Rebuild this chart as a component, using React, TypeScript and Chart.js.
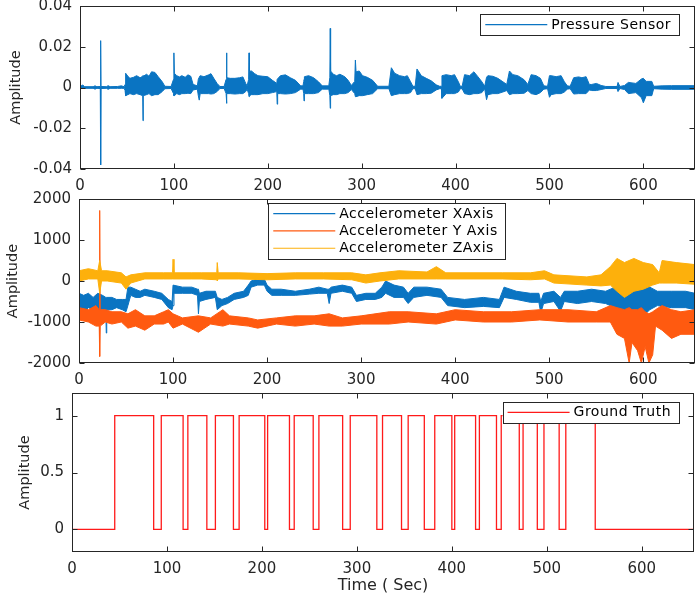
import React, { useEffect, useRef } from "react";
import { Chart, registerables } from "chart.js";

Chart.register(...registerables);

// ---------- shared axis data ----------
const timeTicks = [0, 100, 200, 300, 400, 500, 600];
const timeMax = 655;
const pressureTicks = [-0.04, -0.02, 0, 0.02, 0.04];
const accelTicks = [-2000, -1000, 0, 1000, 2000];
const truthTicks = [0, 0.5, 1];

// ---------- Pressure sensor envelope: [time, upper, lower] ----------
const pressureEnvelope: [number, number, number][] = [
  [0, 0.0005, -0.0005], [3, 0.0012, -0.0004], [5, 0.0004, -0.0004], [14, 0.0004, -0.0004], [16, 0.0008, -0.0008],
  [18, 0.0004, -0.0004], [21.6, 0.0005, -0.0005], [22, 0.023, -0.038], [22.4, 0.0005, -0.0005], [28, 0.0004, -0.0004],
  [30, 0.0009, -0.0009], [32, 0.0004, -0.0004], [40, 0.0005, -0.0004], [44, 0.0008, -0.0004], [47, 0.0004, -0.0004],
  // burst 1
  [48, 0.0015, -0.0015], [48.6, 0.007, -0.004], [51, 0.0055, -0.0035], [53.2, 0.0045, -0.003], [57, 0.005, -0.0035],
  [60.3, 0.0058, -0.003], [64, 0.0048, -0.0035], [66.8, 0.0055, -0.004], [67.1, 0.0058, -0.0163], [67.4, 0.0055, -0.004],
  [70.9, 0.0065, -0.0035], [73.5, 0.0055, -0.003], [76.2, 0.0077, -0.004], [79.8, 0.0074, -0.0035], [83.3, 0.0053, -0.0035],
  [87.6, 0.0028, -0.002], [90.4, 0.0006, -0.0006],
  // burst 2
  [97, 0.0005, -0.0005], [99.6, 0.004, -0.003], [100, 0.017, -0.004], [100.5, 0.007, -0.004], [103, 0.0058, -0.003],
  [106, 0.0052, -0.0035], [108.5, 0.0058, -0.003], [112, 0.005, -0.003], [115, 0.0062, -0.0028], [118, 0.0055, -0.003],
  [120.5, 0.0015, -0.0012],
  // burst 3
  [125, 0.0008, -0.0008], [126, 0.004, -0.004], [127, 0.005, -0.0062], [128, 0.0058, -0.003], [132, 0.0053, -0.003],
  [137, 0.0062, -0.003], [139.5, 0.0068, -0.0032], [142.5, 0.0045, -0.003], [146, 0.002, -0.002], [149, 0.0005, -0.0005],
  // burst 4
  [153.5, 0.0005, -0.0005], [155.6, 0.004, -0.003], [156, 0.017, -0.0078], [156.5, 0.0048, -0.003], [160, 0.0045, -0.003],
  [165, 0.0045, -0.0032], [170, 0.0048, -0.003], [173.5, 0.0052, -0.003], [176.5, 0.002, -0.002], [178, 0.0008, -0.0008],
  // burst 5
  [179.6, 0.004, -0.003], [180, 0.017, -0.0045], [180.5, 0.008, -0.004], [182.6, 0.0081, -0.0035], [186, 0.0068, -0.0035],
  [189.5, 0.0058, -0.0035], [194.8, 0.0055, -0.003], [200, 0.0053, -0.003], [205, 0.0035, -0.0025], [209.6, 0.002, -0.002],
  [210, 0.004, -0.0082], [210.5, 0.004, -0.003],
  // burst 6
  [213.5, 0.0058, -0.003], [218.8, 0.0062, -0.0032], [224, 0.0048, -0.003], [229.5, 0.0035, -0.0025], [235, 0.0008, -0.0008],
  // burst 7
  [237.5, 0.0008, -0.0008], [238.3, 0.003, -0.003], [238.6, 0.004, -0.0066], [239, 0.0053, -0.003], [243.5, 0.0058, -0.003],
  [248.8, 0.0048, -0.003], [254, 0.0028, -0.0025], [258, 0.0008, -0.0008],
  // burst 8
  [265, 0.0008, -0.0008], [266.1, 0.005, -0.004], [266.5, 0.029, -0.0102], [266.9, 0.0081, -0.004], [269.8, 0.0065, -0.0035],
  [273.3, 0.0058, -0.0035], [276.8, 0.0065, -0.003], [282, 0.0053, -0.003], [285.6, 0.0035, -0.0025], [289, 0.001, -0.001],
  // burst 9
  [292.6, 0.003, -0.003], [293.3, 0.0135, -0.0045], [294, 0.0077, -0.0045], [297.4, 0.0081, -0.004], [300.9, 0.0058, -0.004],
  [306, 0.005, -0.0035], [311.7, 0.0035, -0.003], [317, 0.0006, -0.0006],
  // burst 10
  [329, 0.0006, -0.0006], [331.6, 0.0097, -0.004], [335.1, 0.007, -0.0035], [340.4, 0.0058, -0.003], [345.7, 0.0053, -0.003],
  [348.6, 0.0058, -0.003], [352.1, 0.0028, -0.0025], [354.5, 0.0006, -0.0006],
  // burst 11
  [357, 0.0006, -0.0006], [358.9, 0.0091, -0.0035], [363.5, 0.0058, -0.003], [368.8, 0.0045, -0.003], [374, 0.0033, -0.0028],
  [379.4, 0.0013, -0.0012], [383, 0.0006, -0.0006],
  // burst 12
  [385, 0.0006, -0.0006], [385.5, 0.0058, -0.0053], [390, 0.0063, -0.003], [395.4, 0.0058, -0.003], [398.9, 0.0063, -0.003],
  [403, 0.0028, -0.0022], [405, 0.0006, -0.0006],
  // burst 13
  [407, 0.0006, -0.0006], [409.6, 0.0063, -0.003], [414.9, 0.0058, -0.0035], [419.5, 0.0077, -0.003], [423.8, 0.0053, -0.003],
  [428, 0.0028, -0.0025], [431, 0.0006, -0.0006],
  // burst 14
  [433, 0.005, -0.006], [434.4, 0.0058, -0.0035], [439.7, 0.0055, -0.003], [445, 0.0045, -0.003], [450.4, 0.0028, -0.0022],
  [454.5, 0.0015, -0.0015],
  // burst 15
  [457.4, 0.0081, -0.0035], [461, 0.0063, -0.003], [466.3, 0.0058, -0.003], [473, 0.0038, -0.0028], [477, 0.0015, -0.0015],
  // burst 16
  [480.5, 0.0063, -0.003], [485.8, 0.0058, -0.0035], [490.4, 0.0045, -0.0025], [494, 0.0008, -0.0008], [498, 0.0006, -0.0006],
  // burst 17
  [500, 0.0058, -0.0048], [501.8, 0.0058, -0.0035], [507.1, 0.0053, -0.003], [512.4, 0.0058, -0.003], [515.9, 0.0028, -0.0022],
  [519, 0.0008, -0.0008],
  // burst 18
  [522, 0.0006, -0.0006], [525.8, 0.0048, -0.0032], [531, 0.0052, -0.003], [534.6, 0.0048, -0.003], [539, 0.0053, -0.003],
  [542.5, 0.0015, -0.0012], [545, 0.0015, -0.0015], [550, 0.002, -0.0015], [555, 0.001, -0.001], [560, 0.0005, -0.0005],
  // tail
  [572, 0.0005, -0.0005], [573, 0.0025, -0.002], [575, 0.0005, -0.0005], [580, 0.001, -0.001], [584, 0.0025, -0.003],
  [592, 0.002, -0.0025], [598, 0.0042, -0.005], [600, 0.0045, -0.0075], [603, 0.003, -0.004], [609, 0.003, -0.004],
  [611, 0.0006, -0.0006], [620, 0.0008, -0.0008], [630, 0.0009, -0.0009], [655, 0.0009, -0.0009],
];

// ---------- Accelerometer envelopes: [time, upper, lower] ----------
const accelXEnvelope: [number, number, number][] = [
  [0, -300, -700], [5, -350, -750], [10, -300, -650], [15, -400, -700], [20, -300, -800], [25, -350, -700],
  [28.5, -400, -700], [29, -400, -1270], [29.5, -400, -700], [35, -400, -700], [40, -450, -650], [46, -450, -700],
  [50, -450, -750], [52, -150, -600], [55, -150, -350], [60, -200, -400], [65, -250, -400], [70, -200, -350],
  [80, -250, -400], [88, -300, -450], [95, -450, -650], [99, -500, -700], [100, -100, -600], [101, -100, -300],
  [110, -150, -300], [120, -150, -300], [126, -200, -350], [127, -200, -800], [128, -300, -500], [135, -250, -450],
  [145, -250, -400], [147, -400, -700], [152, -450, -600], [158, -400, -550], [165, -300, -450], [175, -250, -400],
  [180, -100, -350], [183, 0, -150], [190, 50, -100], [197, 50, -100], [200, -100, -250], [205, -200, -350],
  [215, -200, -350], [230, -250, -350], [245, -200, -320], [255, -150, -300], [264, -200, -300], [266, -200, -550],
  [268, -150, -300], [280, -100, -250], [290, -150, -300], [295, -350, -500], [305, -300, -450], [315, -300, -450],
  [322, -150, -400], [326, 0, -300], [335, -100, -400], [345, -150, -400], [350, -300, -550], [356, -150, -400],
  [370, -150, -350], [385, -200, -400], [392, -400, -600], [410, -450, -650], [430, -400, -620], [447, -450, -650],
  [452, -150, -400], [465, -250, -450], [480, -300, -520], [489, -300, -520], [491, -500, -780], [494, -300, -550],
  [505, -250, -500], [512, -400, -740], [516, -250, -500], [530, -250, -550], [545, -200, -500], [560, -250, -550],
  [570, -150, -650], [580, 0, -860], [590, -100, -800], [600, 0, -850], [607, -150, -700], [615, -250, -600],
  [630, -250, -650], [645, -250, -650], [655, -300, -700],
];

const accelYEnvelope: [number, number, number][] = [
  [0, -650, -950], [10, -700, -1000], [18, -600, -1100], [21.5, -700, -1100], [22, 1720, -1840], [22.5, -700, -1100],
  [28, -700, -1000], [35, -750, -1050], [45, -750, -1000], [52, -800, -1150], [60, -700, -1100], [70, -850, -1200],
  [80, -850, -1050], [90, -750, -1050], [95, -700, -1000], [100, -800, -1150], [110, -900, -1050], [127, -850, -1250],
  [140, -900, -1050], [153, -700, -1100], [160, -850, -1050], [180, -900, -1100], [190, -950, -1150],
  [210, -900, -1050], [230, -850, -1100], [250, -850, -1050], [266, -800, -1100], [280, -900, -1100],
  [300, -850, -1050], [330, -750, -1050], [350, -750, -1000], [380, -800, -1050], [400, -700, -950],
  [430, -750, -1000], [460, -750, -1000], [490, -700, -950], [520, -700, -1000], [550, -750, -1000],
  [565, -600, -1000], [572, -650, -1300], [580, -700, -1400], [585, -650, -2000], [588, -700, -1500],
  [594, -700, -1700], [598, -650, -2000], [602, -750, -1600], [606, -800, -2000], [610, -750, -1800],
  [613, -700, -1100], [620, -600, -1200], [630, -700, -1400], [640, -750, -1300], [655, -700, -1300],
];

const accelZEnvelope: [number, number, number][] = [
  [0, 250, 0], [10, 300, 50], [20, 250, 50], [22, 500, -300], [24, 250, 0], [30, 250, 0], [45, 200, -50],
  [50, 100, -200], [55, 150, -50], [70, 200, 50], [90, 200, 50], [99.5, 200, 50], [100, 530, 50], [101, 200, 50],
  [120, 200, 50], [130, 200, 50], [146.5, 200, 30], [147, 450, 0], [148, 200, 50], [170, 200, 50], [200, 180, 30],
  [230, 200, 50], [260, 200, 50], [290, 200, 30], [305, 150, -50], [320, 200, 0], [340, 250, 50], [370, 220, 50],
  [380, 350, 50], [390, 200, 50], [420, 200, 50], [450, 200, 50], [480, 200, 30], [495, 250, 50], [505, 150, -50],
  [540, 100, -100], [555, 150, -120], [565, 350, -100], [572, 550, -250], [580, 450, -400], [590, 550, -250],
  [600, 450, -200], [610, 400, -100], [617, 200, -50], [620, 500, -50], [635, 450, -50], [655, 400, -80],
];

// ---------- Ground truth (step signal) ----------
const truthTime = [0, 45, 86, 94, 117, 122, 142, 151, 170, 176, 203, 206, 229, 234, 254, 260, 285, 293, 321, 327,
  347, 354, 371, 382, 400, 403, 425, 429, 447, 452, 471, 475, 490, 497, 513, 520, 551, 655];
const truthValue = [0, 1, 0, 1, 0, 1, 0, 1, 0, 1, 0, 1, 0, 1, 0, 1, 0, 1, 0, 1,
  0, 1, 0, 1, 0, 1, 0, 1, 0, 1, 0, 1, 0, 1, 0, 1, 0, 0];

// ---------- styling ----------
const FONT = '"DejaVu Sans", "Liberation Sans", sans-serif';
const AXIS_COLOR = "#262626";
const BLUE = "#0a74c2";
const ORANGE = "#ff5a10";
const YELLOW = "#fdb00c";
const RED = "#ff1a1a";

const matlabPlugin = {
  id: "matlab",
  afterDraw(chart: any, _args: any, opts: any) {
    const { ctx, chartArea: a, scales } = chart;
    ctx.save();
    ctx.strokeStyle = AXIS_COLOR;
    ctx.lineWidth = 1;
    const L = Math.round(a.left) + 0.5, T = Math.round(a.top) + 0.5;
    const R = Math.round(a.right) - 0.5, B = Math.round(a.bottom) - 0.5;
    ctx.strokeRect(L, T, R - L, B - T);
    const tl = 5;
    ctx.beginPath();
    scales.x.ticks.forEach((t: any) => {
      const px = Math.round(scales.x.getPixelForValue(t.value)) + 0.5;
      ctx.moveTo(px, B); ctx.lineTo(px, B - tl);
      ctx.moveTo(px, T); ctx.lineTo(px, T + tl);
    });
    scales.y.ticks.forEach((t: any) => {
      const py = Math.round(scales.y.getPixelForValue(t.value)) + 0.5;
      ctx.moveTo(L, py); ctx.lineTo(L + tl, py);
      ctx.moveTo(R, py); ctx.lineTo(R - tl, py);
    });
    ctx.stroke();

    // legend box
    const items = opts.items as { label: string; color: string }[];
    ctx.font = `14px ${FONT}`;
    try { (ctx as any).letterSpacing = "0.5px"; } catch (e) { /* ignore */ }
    const textW = Math.max(...items.map((i) => ctx.measureText(i.label).width));
    const sample = 62, padL = 5, gap = 4, padR = 8, rowH = 17.3, padV = 2;
    const w = padL + sample + gap + textW + padR;
    const h = items.length * rowH + padV * 2;
    const x0 = opts.align === "center" ? (a.left + a.right) / 2 - w / 2 : a.right - opts.right - w;
    const y0 = a.top + opts.top;
    ctx.fillStyle = "#ffffff";
    ctx.fillRect(x0, y0, w, h);
    ctx.strokeStyle = AXIS_COLOR;
    ctx.lineWidth = 1;
    ctx.strokeRect(Math.round(x0) + 0.5, Math.round(y0) + 0.5, Math.round(w), Math.round(h));
    items.forEach((it, i) => {
      const cy = y0 + padV + rowH * (i + 0.5);
      ctx.strokeStyle = it.color;
      ctx.lineWidth = 1.2;
      ctx.beginPath();
      ctx.moveTo(x0 + padL, cy);
      ctx.lineTo(x0 + padL + sample, cy);
      ctx.stroke();
      ctx.fillStyle = "#000000";
      ctx.textBaseline = "middle";
      ctx.textAlign = "left";
      ctx.fillText(it.label, x0 + padL + sample + gap, cy + 0.5);
    });
    ctx.restore();
  },
};

function bandDatasets(env: [number, number, number][], color: string, order: number) {
  return [
    {
      data: env.map((p) => ({ x: p[0], y: p[1] })),
      borderColor: color, backgroundColor: color, borderWidth: 1,
      pointRadius: 0, fill: "+1", tension: 0, order,
    },
    {
      data: env.map((p) => ({ x: p[0], y: p[2] })),
      borderColor: color, backgroundColor: color, borderWidth: 1,
      pointRadius: 0, fill: false, tension: 0, order,
    },
  ];
}

function panelConfig(p: {
  datasets: any[]; yMin: number; yMax: number; yTicks: number[]; yFmt: (v: number) => string;
  yWidth: number; xHeight: number; padTop: number; padRight: number; yTitlePad: number;
  xTitle?: string; legend: any;
}): any {
  return {
    type: "line",
    data: { datasets: p.datasets },
    plugins: [matlabPlugin],
    options: {
      animation: false,
      responsive: false,
      layout: { padding: { top: p.padTop, right: p.padRight, left: 0, bottom: 0 } },
      plugins: {
        legend: { display: false },
        tooltip: { enabled: false },
        matlab: p.legend,
      },
      scales: {
        x: {
          type: "linear", min: 0, max: timeMax,
          grid: { display: false, drawTicks: false },
          border: { display: false },
          afterBuildTicks: (s: any) => { s.ticks = timeTicks.map((v) => ({ value: v })); },
          afterFit: (s: any) => { s.height = p.xHeight; s.paddingLeft = 0; s.paddingRight = 0; },
          ticks: { color: AXIS_COLOR, font: { family: FONT, size: 15 }, padding: 8, maxRotation: 0, autoSkip: false,
            callback: (v: number) => String(v) },
          title: p.xTitle
            ? { display: true, text: p.xTitle, color: AXIS_COLOR, font: { family: FONT, size: 16 }, padding: { top: 0, bottom: 1 } }
            : { display: false },
        },
        y: {
          type: "linear", min: p.yMin, max: p.yMax,
          grid: { display: false, drawTicks: false },
          border: { display: false },
          afterBuildTicks: (s: any) => { s.ticks = p.yTicks.map((v) => ({ value: v })); },
          afterFit: (s: any) => { s.width = p.yWidth; s.paddingTop = 0; s.paddingBottom = 0; },
          ticks: { color: AXIS_COLOR, font: { family: FONT, size: 15 }, padding: 8, autoSkip: false,
            callback: (v: number) => p.yFmt(v) },
          title: { display: true, text: "Amplitude", color: AXIS_COLOR, font: { family: FONT, size: 14.5 },
            padding: { top: p.yTitlePad, bottom: 0 } },
        },
      },
    },
  };
}

export default function App() {
  const r1 = useRef<HTMLCanvasElement>(null);
  const r2 = useRef<HTMLCanvasElement>(null);
  const r3 = useRef<HTMLCanvasElement>(null);

  useEffect(() => {
    const c1 = new Chart(r1.current!, panelConfig({
      datasets: bandDatasets(pressureEnvelope, BLUE, 1),
      yMin: -0.04, yMax: 0.04, yTicks: pressureTicks,
      yFmt: (v) => String(Math.round(v * 100) / 100),
      yWidth: 80, xHeight: 27, padTop: 6, padRight: 4, yTitlePad: 8,
      legend: { items: [{ label: "Pressure Sensor", color: BLUE }], align: "right", right: 16, top: 8 },
    }));
    const c2 = new Chart(r2.current!, panelConfig({
      datasets: [
        ...bandDatasets(accelXEnvelope, BLUE, 3),
        ...bandDatasets(accelYEnvelope, ORANGE, 2),
        ...bandDatasets(accelZEnvelope, YELLOW, 1),
      ],
      yMin: -2000, yMax: 2000, yTicks: accelTicks,
      yFmt: (v) => String(Math.round(v)),
      yWidth: 79, xHeight: 25, padTop: 11, padRight: 4, yTitlePad: 5,
      legend: {
        items: [
          { label: "Accelerometer XAxis", color: BLUE },
          { label: "Accelerometer Y Axis", color: ORANGE },
          { label: "Accelerometer ZAxis", color: YELLOW },
        ],
        align: "center", right: 0, top: 4,
      },
    }));
    const c3 = new Chart(r3.current!, panelConfig({
      datasets: [{
        data: truthTime.map((t, i) => ({ x: t, y: truthValue[i] })),
        borderColor: RED, borderWidth: 1.3, pointRadius: 0, stepped: true, fill: false,
      }],
      yMin: -0.2, yMax: 1.2, yTicks: truthTicks,
      yFmt: (v) => String(v),
      yWidth: 72, xHeight: 44, padTop: 9, padRight: 5, yTitlePad: 16.5,
      xTitle: "Time ( Sec)",
      legend: { items: [{ label: "Ground Truth", color: RED }], align: "right", right: 15, top: 8.7 },
    }));
    return () => { c1.destroy(); c2.destroy(); c3.destroy(); };
  }, []);

  return (
    <div style={{ position: "absolute", left: 0, top: 0, width: 699, height: 596, background: "#ffffff" }}>
      <canvas ref={r1} width={699} height={196} style={{ position: "absolute", left: 0, top: 0 }} />
      <canvas ref={r2} width={699} height={200} style={{ position: "absolute", left: 0, top: 188 }} />
      <canvas ref={r3} width={699} height={212} style={{ position: "absolute", left: 0, top: 384 }} />
    </div>
  );
}
